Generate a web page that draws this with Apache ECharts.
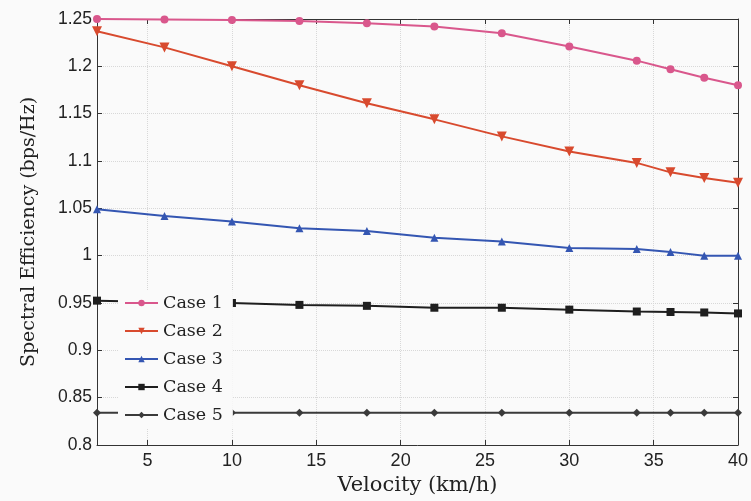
<!DOCTYPE html>
<html>
<head>
<meta charset="utf-8">
<script src="https://cdn.jsdelivr.net/npm/echarts@6/dist/echarts.min.js"></script>
<style>
  html, body { margin: 0; padding: 0; background: #fafafa; }
  #chart { width: 751px; height: 501px; }
</style>
</head>
<body>
<div id="chart"></div>
<script>
// velocity values (km/h)
const velocity = [2, 6, 10, 14, 18, 22, 26, 30, 34, 36, 38, 40]
const xTicks = [5, 10, 15, 20, 25, 30, 35, 40]

// spectral efficiency per case (bps/Hz)
const case1 = [1.250, 1.2495, 1.249, 1.248, 1.2455, 1.242, 1.235, 1.221, 1.206, 1.197, 1.188, 1.180]
const case2 = [1.237, 1.220, 1.200, 1.180, 1.161, 1.144, 1.126, 1.110, 1.098, 1.088, 1.082, 1.077]
const case3 = [1.049, 1.042, 1.036, 1.029, 1.026, 1.019, 1.015, 1.008, 1.007, 1.004, 1.000, 1.000]
const case4 = [0.9525, 0.951, 0.950, 0.948, 0.947, 0.945, 0.945, 0.943, 0.941, 0.9405, 0.940, 0.939]
const case5 = [0.834, 0.834, 0.834, 0.834, 0.834, 0.834, 0.834, 0.834, 0.834, 0.834, 0.834, 0.834]

const caseNames = ['Case 1', 'Case 2', 'Case 3', 'Case 4', 'Case 5']
const caseColors = ['#d9578c', '#d84a2e', '#3456b2', '#1e1e1e', '#3a3a3a']
const caseSymbols = ['circle', 'path://M0,0 L10,0 L5,9 Z', 'triangle', 'rect', 'diamond']
const caseData = [case1, case2, case3, case4, case5]

const serif = '"DejaVu Serif", "Liberation Serif", serif'
const sans = '"Liberation Sans", Arial, sans-serif'

const chart = echarts.init(document.getElementById('chart'))

const axisCommon = {
  axisLine: { show: true, lineStyle: { color: '#333', width: 1 } },
  axisTick: { show: true, inside: true, length: 5, lineStyle: { color: '#333' } },
}

chart.setOption({
  backgroundColor: '#fafafa',
  animation: false,
  grid: { left: 97, right: 11, top: 19, bottom: 56, show: false },
  legend: {
    left: 118,
    top: 290,
    orient: 'vertical',
    itemWidth: 33,
    itemHeight: 8,
    itemGap: 10,
    backgroundColor: '#fafafa',
    padding: [4, 10, 4, 6],
    textStyle: { fontFamily: serif, fontSize: 17.5, lineHeight: 18, color: '#222' },
    data: caseNames,
  },
  xAxis: [
    {
      type: 'value',
      min: 2,
      max: 40,
      name: 'Velocity (km/h)',
      nameLocation: 'middle',
      nameGap: 29,
      nameTextStyle: { fontFamily: serif, fontSize: 21, color: '#222' },
      ...axisCommon,
      axisTick: { ...axisCommon.axisTick, customValues: xTicks },
      axisLabel: { customValues: xTicks, fontFamily: sans, fontSize: 18, color: '#222', margin: 7 },
      splitLine: { show: true, lineStyle: { type: 'dotted', color: '#d8d8d8' } },
    },
    {
      type: 'value',
      min: 2,
      max: 40,
      position: 'top',
      ...axisCommon,
      axisTick: { ...axisCommon.axisTick, customValues: xTicks },
      axisLabel: { show: false },
      splitLine: { show: false },
    },
  ],
  yAxis: [
    {
      type: 'value',
      min: 0.8,
      max: 1.25,
      interval: 0.05,
      name: 'Spectral Efficiency (bps/Hz)',
      nameLocation: 'middle',
      nameGap: 58,
      nameTextStyle: { fontFamily: serif, fontSize: 19, color: '#222' },
      ...axisCommon,
      axisLabel: {
        fontFamily: sans, fontSize: 17.5, color: '#222', margin: 5,
        formatter: v => String(parseFloat(v.toFixed(2))),
      },
      splitLine: { show: true, lineStyle: { type: 'dotted', color: '#d8d8d8' } },
    },
    {
      type: 'value',
      min: 0.8,
      max: 1.25,
      interval: 0.05,
      position: 'right',
      ...axisCommon,
      axisLabel: { show: false },
      splitLine: { show: false },
    },
  ],
  series: caseNames.map((name, i) => ({
    name: name,
    type: 'line',
    data: velocity.map((v, j) => [v, caseData[i][j]]),
    symbol: caseSymbols[i],
    symbolSize: i === 1 ? 10 : 8,
    showAllSymbol: true,
    lineStyle: { color: caseColors[i], width: 2 },
    itemStyle: { color: caseColors[i] },
    z: 2,
  })),
})
</script>
</body>
</html>
